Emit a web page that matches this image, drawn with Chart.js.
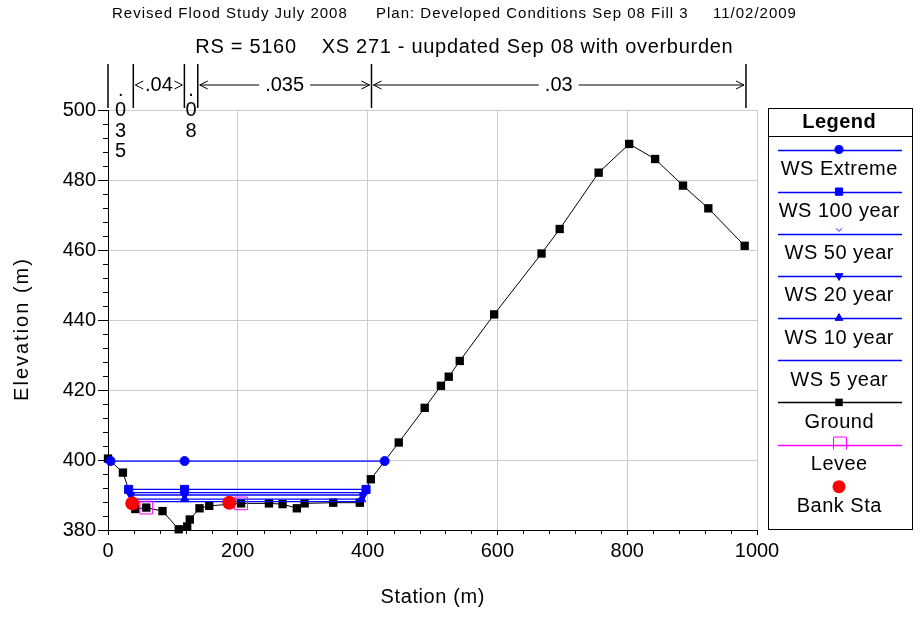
<!DOCTYPE html>
<html>
<head>
<meta charset="utf-8">
<script src="https://cdn.jsdelivr.net/npm/chart.js@4.4.0/dist/chart.umd.min.js"></script>
<style>
  html, body { margin: 0; padding: 0; background: #fff; }
</style>
</head>
<body>
<canvas id="xs-chart" width="921" height="619"></canvas>
<script>
// ground profile (station m, elevation m)
const groundStation = [0, 23, 42, 59, 84, 109, 122, 126, 141, 156, 205, 248, 269, 291, 303, 347, 388, 405, 448, 488, 513, 525, 542, 595, 668, 696, 756, 803, 843, 886, 925, 981];
const groundElev = [400.4, 396.4, 386, 386.4, 385.4, 380.2, 381, 383, 386.2, 386.9, 387.6, 387.6, 387.4, 386.2, 387.6, 387.8, 387.8, 394.5, 405, 414.9, 421.2, 423.8, 428.3, 441.6, 459, 466, 482.1, 490.3, 486, 478.4, 471.9, 461.2];

// water surface profiles
const wsNames = ["WS Extreme", "WS 100 year", "WS 50 year", "WS 20 year", "WS 10 year", "WS 5 year"];
const wsElev = [399.7, 391.6, 390.7, 390.0, 388.8, 388.1];
const wsLeftStation = [4, 31.8, 33.4, 34.7, 36.9, 38.2];
const wsMidStation = [118, 118, 118, 118, 118, 118];
const wsRightStation = [426.3, 397.6, 395.4, 393.6, 390.5, 388.8];

const leveeStation = [59, 205];
const leveeElev = [386.4, 387.6];
const bankStation = [37.4, 186.9];
const bankElev = [387.6, 387.8];

// Manning's n breaks along the section
const nStations = [0, 39, 117.7, 138.3, 406, 983];
const nValues = [".035", ".04", ".08", ".035", ".03"];

const headerParts = ["Revised Flood Study July 2008", "Plan: Developed Conditions Sep 08 Fill 3", "11/02/2009"];
const chartTitle = "RS = 5160    XS 271 - uupdated Sep 08 with overburden";
const xTitle = "Station (m)";
const yTitle = "Elevation (m)";

const FONT = 'Arial, "Liberation Sans", sans-serif';
const BLUE = "#0000ff";

function pts(xs, ys) {
  return xs.map((x, i) => ({ x: x, y: ys[i] }));
}

// small "v" marker used for the 50 year profile
function chevron() {
  const c = document.createElement("canvas");
  c.width = 8;
  c.height = 8;
  const g = c.getContext("2d");
  g.strokeStyle = BLUE;
  g.lineWidth = 1;
  g.beginPath();
  g.moveTo(1, 1.5);
  g.lineTo(4, 4.5);
  g.lineTo(7, 1.5);
  g.stroke();
  return c;
}

const wsMarkers = [
  { pointStyle: "circle", pointRadius: 4.5, pointRotation: 0 },
  { pointStyle: "rect", pointRadius: 5.7, pointRotation: 0 },
  { pointStyle: chevron(), pointRadius: 4, pointRotation: 0 },
  { pointStyle: "triangle", pointRadius: 5, pointRotation: 180 },
  { pointStyle: "triangle", pointRadius: 5, pointRotation: 0 },
  { pointStyle: "circle", pointRadius: 0, pointRotation: 0 }
];

const wsDatasets = wsNames.map((name, i) => ({
  label: name,
  data: [
    { x: wsLeftStation[i], y: wsElev[i] },
    { x: wsMidStation[i], y: wsElev[i] },
    { x: wsRightStation[i], y: wsElev[i] }
  ],
  showLine: true,
  borderColor: BLUE,
  borderWidth: 1.3,
  backgroundColor: BLUE,
  pointBackgroundColor: BLUE,
  pointBorderColor: BLUE,
  pointBorderWidth: 1,
  pointStyle: wsMarkers[i].pointStyle,
  pointRadius: wsMarkers[i].pointRadius,
  pointRotation: wsMarkers[i].pointRotation,
  clip: false,
  order: 2
}));

const datasets = wsDatasets.concat([
  {
    label: "Ground",
    data: pts(groundStation, groundElev),
    showLine: true,
    borderColor: "#000",
    borderWidth: 1,
    pointStyle: "rect",
    pointRadius: 5.9,
    pointBackgroundColor: "#000",
    pointBorderColor: "#000",
    pointBorderWidth: 0,
    clip: false,
    order: 3
  },
  {
    label: "Levee",
    data: pts(leveeStation, leveeElev),
    showLine: false,
    borderColor: "#ff00ff",
    pointStyle: "rect",
    pointRadius: 9,
    pointBackgroundColor: "transparent",
    pointBorderColor: "#ff00ff",
    pointBorderWidth: 1,
    order: 1
  },
  {
    label: "Bank Sta",
    data: pts(bankStation, bankElev),
    showLine: false,
    borderColor: "#ff0000",
    pointStyle: "circle",
    pointRadius: 7,
    pointBackgroundColor: "#ff0000",
    pointBorderColor: "#ff0000",
    pointBorderWidth: 0,
    order: 0
  }
]);

function drawChevronArrow(ctx, x, y, dir) {
  ctx.beginPath();
  ctx.moveTo(x + dir * 8, y - 4);
  ctx.lineTo(x, y);
  ctx.lineTo(x + dir * 8, y + 4);
  ctx.stroke();
}

// centred text with extra tracking, offset so the spacing stays balanced
function spacedText(ctx, text, x, y, spacing) {
  ctx.letterSpacing = spacing + "px";
  ctx.fillText(text, x + spacing / 2, y);
  ctx.letterSpacing = "0px";
}

const decorPlugin = {
  id: "xsDecor",
  afterDraw(chart) {
    const ctx = chart.ctx;
    const xs = chart.scales.x;
    const ys = chart.scales.y;
    const area = chart.chartArea;
    ctx.save();
    ctx.fillStyle = "#000";
    ctx.strokeStyle = "#000";

    // header and title
    ctx.textBaseline = "middle";
    ctx.textAlign = "left";
    ctx.font = "15px " + FONT;
    ctx.letterSpacing = "1px";
    const headerX = [112, 376, 713];
    headerParts.forEach((t, i) => ctx.fillText(t, headerX[i], 14));
    ctx.letterSpacing = "0px";
    ctx.textAlign = "center";
    ctx.font = "20px " + FONT;
    spacedText(ctx, chartTitle, 464, 47, 0.7);

    // axis titles
    spacedText(ctx, xTitle, (area.left + area.right) / 2, 597, 0.6);
    ctx.save();
    ctx.translate(22, 330);
    ctx.rotate(-Math.PI / 2);
    spacedText(ctx, yTitle, 0, 0, 2);
    ctx.restore();

    // minor ticks
    ctx.lineWidth = 1;
    ctx.beginPath();
    for (let v = 0; v <= 1000; v += 40) {
      if (v % 200 === 0) continue;
      const x = Math.round(xs.getPixelForValue(v)) + 0.5;
      ctx.moveTo(x, area.bottom);
      ctx.lineTo(x, area.bottom + 4);
    }
    for (let v = 380; v <= 500; v += 4) {
      if (v % 20 === 0) continue;
      const y = Math.round(ys.getPixelForValue(v)) + 0.5;
      ctx.moveTo(area.left - 5, y);
      ctx.lineTo(area.left, y);
    }
    ctx.stroke();

    // Manning's n bars and labels
    ctx.font = "20px " + FONT;
    ctx.lineWidth = 1.5;
    const barTop = 64;
    const barBottom = area.top - 2;
    const arrowY = 85;
    nStations.forEach((s) => {
      const x = xs.getPixelForValue(s);
      ctx.beginPath();
      ctx.moveTo(x, barTop);
      ctx.lineTo(x, barBottom);
      ctx.stroke();
    });
    ctx.lineWidth = 1;
    nValues.forEach((label, i) => {
      const x0 = xs.getPixelForValue(nStations[i]);
      const x1 = xs.getPixelForValue(nStations[i + 1]);
      const mid = (x0 + x1) / 2;
      const w = ctx.measureText(label).width;
      ctx.textAlign = "center";
      ctx.textBaseline = "middle";
      if (x1 - x0 > w + 18) {
        ctx.fillText(label, mid, arrowY);
        const gap = 6;
        ctx.beginPath();
        if (mid - w / 2 - gap > x0 + 9) {
          ctx.moveTo(x0 + 2, arrowY);
          ctx.lineTo(mid - w / 2 - gap, arrowY);
          ctx.moveTo(mid + w / 2 + gap, arrowY);
          ctx.lineTo(x1 - 2, arrowY);
        }
        ctx.stroke();
        drawChevronArrow(ctx, x0 + 2, arrowY, 1);
        drawChevronArrow(ctx, x1 - 2, arrowY, -1);
      } else {
        label.split("").forEach((ch, k) => {
          ctx.fillText(ch, mid, 90 + k * 20.5);
        });
      }
    });

    // legend box
    const box = { left: 768, top: 108, right: 912, bottom: 529 };
    const cx = 839;
    ctx.lineWidth = 1;
    ctx.strokeStyle = "#000";
    ctx.strokeRect(box.left + 0.5, box.top + 0.5, box.right - box.left, box.bottom - box.top);
    ctx.beginPath();
    ctx.moveTo(box.left, 136.5);
    ctx.lineTo(box.right, 136.5);
    ctx.stroke();
    ctx.textAlign = "center";
    ctx.textBaseline = "middle";
    ctx.font = "bold 20px " + FONT;
    spacedText(ctx, "Legend", cx, 122, 0.5);
    ctx.font = "20px " + FONT;

    const legendOrder = wsNames.concat(["Ground", "Levee", "Bank Sta"]);
    legendOrder.forEach((name, i) => {
      const ds = chart.data.datasets.find((d) => d.label === name);
      const lineY = 149.5 + i * 42.15;
      if (ds.showLine || name === "Levee") {
        ctx.strokeStyle = ds.borderColor;
        ctx.lineWidth = name === "Ground" ? 1.5 : 1.3;
        ctx.beginPath();
        ctx.moveTo(778, Math.round(lineY) + 0.5);
        ctx.lineTo(902, Math.round(lineY) + 0.5);
        ctx.stroke();
      }
      if (name === "Levee") {
        ctx.strokeStyle = ds.pointBorderColor;
        ctx.lineWidth = 1;
        ctx.beginPath();
        ctx.moveTo(833.5, lineY + 5);
        ctx.lineTo(833.5, lineY - 7.5);
        ctx.lineTo(846.5, lineY - 7.5);
        ctx.lineTo(846.5, lineY + 5);
        ctx.stroke();
      } else if (ds.pointRadius > 0) {
        ctx.fillStyle = ds.pointBackgroundColor;
        ctx.strokeStyle = ds.pointBorderColor;
        ctx.lineWidth = ds.pointBorderWidth;
        const my = typeof ds.pointStyle === "string" ? lineY : lineY - 3;
        Chart.helpers.drawPoint(ctx, {
          pointStyle: ds.pointStyle,
          rotation: ds.pointRotation || 0,
          radius: name === "Bank Sta" ? 6.5 : ds.pointRadius * 0.9,
          borderWidth: ds.pointBorderWidth
        }, cx, my);
      }
      ctx.fillStyle = "#000";
      spacedText(ctx, name, cx, lineY + 20, 0.5);
    });
    ctx.restore();
  }
};

const ctx = document.querySelector("#xs-chart");
const tickFont = { family: FONT, size: 20 };

new Chart(ctx, {
  type: "scatter",
  data: { datasets: datasets },
  options: {
    responsive: false,
    animation: false,
    devicePixelRatio: 1,
    layout: { padding: { top: 110, right: 164, left: 0, bottom: 0 } },
    plugins: {
      legend: { display: false },
      tooltip: { enabled: false }
    },
    scales: {
      x: {
        type: "linear",
        min: 0,
        max: 1000,
        afterFit: (scale) => { scale.height = 89; },
        ticks: {
          stepSize: 40,
          autoSkip: false,
          maxRotation: 0,
          color: "#000",
          font: tickFont,
          padding: 4,
          callback: (v) => (v % 200 === 0 ? v : "")
        },
        grid: {
          color: (c) => (c.tick && c.tick.value % 200 === 0 ? "#cccccc" : "transparent"),
          tickColor: (c) => (c.tick && c.tick.value % 200 === 0 ? "#000" : "transparent"),
          tickLength: 5
        },
        border: { color: "#000", width: 1 }
      },
      y: {
        type: "linear",
        min: 380,
        max: 500,
        afterFit: (scale) => { scale.width = 108; },
        ticks: {
          stepSize: 4,
          autoSkip: false,
          color: "#000",
          font: tickFont,
          padding: 2,
          callback: (v) => (v % 20 === 0 ? v : "")
        },
        grid: {
          color: (c) => (c.tick && c.tick.value % 20 === 0 ? "#cccccc" : "transparent"),
          tickColor: (c) => (c.tick && c.tick.value % 20 === 0 ? "#000" : "transparent"),
          tickLength: 10
        },
        border: { color: "#000", width: 1 }
      }
    }
  },
  plugins: [decorPlugin]
});
</script>
</body>
</html>
